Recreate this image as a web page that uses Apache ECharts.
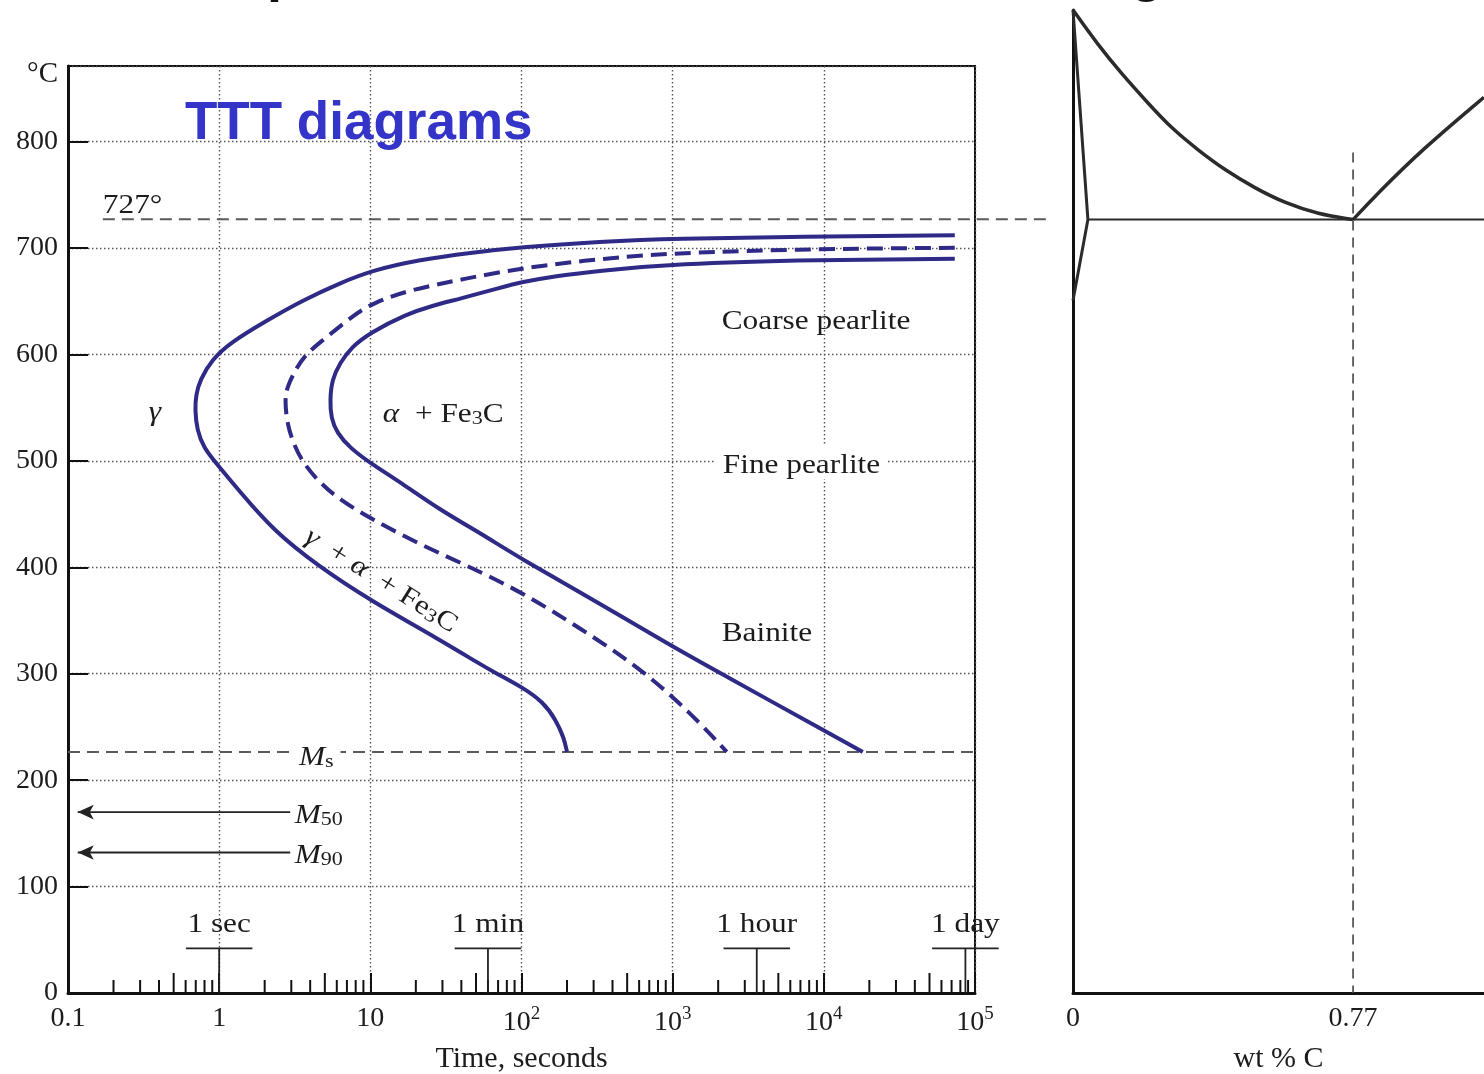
<!DOCTYPE html>
<html>
<head>
<meta charset="utf-8">
<title>TTT diagram</title>
<script src="https://cdn.jsdelivr.net/npm/echarts@6/dist/echarts.min.js"></script>
<style>
  html, body { margin: 0; padding: 0; background: #fff; }
  #chart { width: 1484px; height: 1074px; }
</style>
</head>
<body>
<div id="chart"></div>
<script>
// TTT curves: [time (s), temperature (°C)]
const startCurve = [
  [73500, 712], [6940, 710.5], [1035, 709], [330, 706], [102, 701], [45.6, 695.5], [21.3, 689],
  [10.3, 679], [6.29, 667], [3.58, 651], [2.07, 632], [1.18, 611], [0.895, 595], [0.746, 576],
  [0.702, 562], [0.692, 548], [0.713, 529], [0.792, 512], [0.952, 498], [1.37, 471], [2.27, 435],
  [4.43, 402], [9.94, 369], [28.8, 332], [53.1, 309], [68.7, 300], [102, 287], [139, 273.5],
  [169, 256.6], [191, 239.7], [200, 226.5]
]
const halfCurve = [
  [73500, 700.2], [9420, 699.2], [1003, 695.5], [330, 689.8], [102, 681.4], [41.6, 671],
  [18.3, 660.7], [10.4, 648.5], [7.67, 636.3], [5.16, 616.5], [3.81, 601.5], [3.27, 588.3],
  [2.81, 569.5], [2.72, 557.3], [2.81, 535.7], [3.08, 517], [3.58, 498], [4.64, 479.3],
  [6.29, 463.3], [10.4, 444.5], [22.3, 420], [45.6, 400.4], [102, 376], [243, 343],
  [607, 305.5], [1300, 264], [2280, 226.5]
]
const finishCurve = [
  [73500, 689.8], [9420, 689], [1003, 685.2], [330, 678.6], [171, 673.9], [102, 668.2],
  [71.9, 662.6], [39.2, 652.3], [25.5, 645.7], [17.5, 638.1], [9.94, 620.3], [7.55, 607.1],
  [6.29, 592.1], [5.57, 576.1], [5.41, 557.3], [5.49, 540.4], [6.01, 526.3], [7.33, 512.2],
  [9.94, 498.1], [15.7, 480.3], [28.8, 454], [53.1, 432.3], [102, 407], [243, 376.9],
  [1003, 325.2], [2050, 300.8], [9840, 247.2], [18100, 226.5]
]

const eutectoidTemp = 727
const eutectoidSpan = [0.17, 312000]
const msTemp = 226.5
const msSpan = [0.1, 100000]
const m50Temp = 170
const m90Temp = 132
const mArrowSpan = [2.95, 0.116]

const timeMarks = [1, 60, 3600, 86400]
const timeMarkNames = ['1 sec', '1 min', '1 hour', '1 day']
const minorTicks = []
for (let d = 0.1; d < 1e5; d *= 10) {
  for (let k = 2; k <= 9; k++) minorTicks.push(+(d * k).toPrecision(3))
}

// Fe-Fe3C corner: [wt % C, temperature (°C)]
const a3Line = [
  [0, 924], [0.069, 891], [0.132, 864.7], [0.206, 836.5], [0.27, 813], [0.344, 792.3],
  [0.418, 773.5], [0.5, 756.6], [0.583, 742.5], [0.674, 732.1], [0.77, 727]
]
const acmLine = [[0.77, 727], [0.839, 752], [0.957, 792], [1.13, 842]]
const alphaLine = [[0, 924], [0.041, 727], [0, 651]]
const eutectoidLine = [[0.041, 727], [1.13, 727]]
const eutectoidComp = [[0.77, 790], [0.77, 0]]
const compLabels = [0, 0.77]

// text annotations in the TTT panel: [time, temperature]
const notes = [
  { text: '727°', at: [0.17, 743] },
  { text: 'Coarse pearlite', at: [2110, 634] },
  { text: '{i|γ}', at: [0.376, 548], align: 'center' },
  { text: '{i|α}  + Fe{sub|3}C', at: [12.1, 546] },
  { text: 'Fine pearlite', at: [1930, 499], bg: true },
  { text: 'Bainite', at: [2110, 341] },
  { text: '{i|γ}  + {i|α}  + Fe{sub|3}C', at: [12.1, 390], align: 'center', rotate: -32 },
  { text: '{i|M}{sub|s}', at: [3.03, 224], bg: true },
  { text: '{i|M}{sub|50}', at: [3.16, 170] },
  { text: '{i|M}{sub|90}', at: [3.16, 132] }
]

const serif = '"Liberation Serif", "Times New Roman", serif'
const ink = '#1c1c1c'
const curveColor = '#2e2a86'
const stretch = 1.16

const richText = {
  n: { fontFamily: serif, fontSize: 27, color: ink, lineHeight: 34, verticalAlign: 'bottom' },
  i: { fontFamily: serif, fontSize: 27, fontStyle: 'italic', color: ink, lineHeight: 34, verticalAlign: 'bottom' },
  sub: { fontFamily: serif, fontSize: 19, color: ink, lineHeight: 19, verticalAlign: 'bottom' }
}

// clamped uniform cubic B-spline over the pixel points -> bezier path (smooths reading noise)
function splinePath(pts) {
  const c = [pts[0], pts[0]].concat(pts, [pts[pts.length - 1], pts[pts.length - 1]])
  const mix = (a, b, e, wa, wb, we) => [
    (a[0] * wa + b[0] * wb + e[0] * we) / (wa + wb + we),
    (a[1] * wa + b[1] * wb + e[1] * we) / (wa + wb + we)
  ]
  let start = mix(c[0], c[1], c[2], 1, 4, 1)
  let d = 'M' + start[0] + ' ' + start[1]
  for (let i = 0; i + 3 < c.length; i++) {
    const p1 = c[i + 1], p2 = c[i + 2], p3 = c[i + 3]
    const b1 = mix(p1, p2, p2, 2, 1, 0)
    const b2 = mix(p1, p2, p2, 1, 2, 0)
    const b3 = mix(p1, p2, p3, 1, 4, 1)
    d += ' C' + b1[0] + ' ' + b1[1] + ' ' + b2[0] + ' ' + b2[1] + ' ' + b3[0] + ' ' + b3[1]
  }
  return d
}

function curveSeries(data, axis, color, width, dash, straight) {
  return {
    type: 'custom', xAxisIndex: axis, yAxisIndex: axis, silent: true, clip: false, z: 3,
    data: data,
    renderItem(params, api) {
      if (params.dataIndex !== 0) return null
      const pts = data.map(p => api.coord(p))
      const pathData = straight
        ? pts.map((p, i) => (i ? 'L' : 'M') + p[0] + ' ' + p[1]).join(' ')
        : splinePath(pts)
      return {
        type: 'path',
        shape: { pathData: pathData },
        style: { fill: null, stroke: color, lineWidth: width, lineDash: dash || null, lineJoin: 'round' }
      }
    }
  }
}

function arrowSeries(temp) {
  return {
    type: 'line', xAxisIndex: 0, yAxisIndex: 0, silent: true,
    symbol: 'arrow', symbolSize: [11, 16],
    data: [
      { value: [mArrowSpan[0], temp], symbol: 'none' },
      { value: [mArrowSpan[1], temp], symbolRotate: 90 }
    ],
    itemStyle: { color: '#222' },
    lineStyle: { color: '#222', width: 1.8 }
  }
}

const chart = echarts.init(document.getElementById('chart'))

const option = {
  animation: false,
  backgroundColor: '#fff',
  textStyle: { fontFamily: serif },
  graphic: [
    {
      type: 'text', x: 160, y: 3, silent: true,
      style: {
        text: 'Temperature-Time-Transformation diagrams',
        fontFamily: '"Liberation Sans", Arial, sans-serif', fontWeight: 'bold', fontSize: 54,
        fill: '#111', verticalAlign: 'bottom'
      }
    },
    {
      type: 'text', x: 185, y: 124, silent: true, z: 100,
      style: {
        text: 'TTT diagrams',
        fontFamily: '"Liberation Sans", Arial, sans-serif', fontWeight: 'bold', fontSize: 53,
        fill: '#3434c8', verticalAlign: 'middle'
      }
    }
  ],
  grid: [
    { left: 68, top: 66, width: 907, height: 927, outerBoundsMode: 'none', show: true, borderColor: '#111', borderWidth: 2 },
    { left: 1073, top: 10, width: 411, height: 983, outerBoundsMode: 'none' }
  ],
  xAxis: [
    {
      type: 'log', gridIndex: 0, logBase: 10, min: 0.1, max: 100000, splitNumber: 6,
      name: 'Time, seconds', nameLocation: 'middle', nameGap: 51,
      nameTextStyle: { fontFamily: serif, fontSize: 30, color: ink },
      axisLine: { lineStyle: { color: '#111', width: 3 } },
      axisTick: { inside: true, length: 20, lineStyle: { color: '#111', width: 2 } },
      axisLabel: {
        margin: 12, fontFamily: serif, fontSize: 28, color: ink,
        formatter: v => v < 0.5 ? '0.1' : v < 50 ? String(Math.round(v)) : '{b|10}{s|' + Math.round(Math.log10(v)) + '}',
        rich: {
          b: { fontFamily: serif, fontSize: 28, color: ink, lineHeight: 32, verticalAlign: 'bottom' },
          s: { fontFamily: serif, fontSize: 19, color: ink, lineHeight: 19, verticalAlign: 'top' }
        }
      },
      splitLine: { show: true, lineStyle: { color: '#555', width: 1.4, type: [1.5, 2.5] } }
    },
    {
      type: 'value', gridIndex: 1, min: 0, max: 1.13,
      name: 'wt % C', nameLocation: 'middle', nameGap: 51,
      nameTextStyle: { fontFamily: serif, fontSize: 30, color: ink },
      axisLine: { lineStyle: { color: '#111', width: 3 } },
      axisTick: { show: false },
      axisLabel: {
        margin: 12, fontFamily: serif, fontSize: 28, color: ink,
        customValues: compLabels, formatter: v => String(v)
      },
      splitLine: { show: false }
    }
  ],
  yAxis: [
    {
      type: 'value', gridIndex: 0, min: 0, max: 871, interval: 100,
      name: '°C', nameLocation: 'end', nameGap: -8,
      nameTextStyle: { fontFamily: serif, fontSize: 29, color: ink, align: 'right', verticalAlign: 'middle', padding: [0, 10, 0, 0] },
      axisLine: { lineStyle: { color: '#111', width: 3 } },
      axisTick: { inside: true, length: 20, lineStyle: { color: '#111', width: 2 } },
      axisLabel: {
        margin: 10, fontFamily: serif, fontSize: 28, color: ink, showMaxLabel: false,
        formatter: v => v % 100 === 0 ? String(v) : ''
      },
      splitLine: { show: true, lineStyle: { color: '#555', width: 1.4, type: [1.5, 2.5] } }
    },
    {
      type: 'value', gridIndex: 1, min: 0, max: 924,
      axisLine: { show: true, lineStyle: { color: '#111', width: 3 } },
      axisTick: { show: false }, axisLabel: { show: false }, splitLine: { show: false }
    }
  ],
  series: [
    // 727° and Ms dashed lines
    curveSeries(eutectoidSpan.map(t => [t, eutectoidTemp]), 0, '#5a5a5a', 2, [12, 7], true),
    curveSeries(msSpan.map(t => [t, msTemp]), 0, '#5a5a5a', 2, [12, 7], true),
    arrowSeries(m50Temp),
    arrowSeries(m90Temp),
    curveSeries(startCurve, 0, curveColor, 4),
    curveSeries(halfCurve, 0, curveColor, 4, [16, 8]),
    curveSeries(finishCurve, 0, curveColor, 4),
    // minor log ticks on the time axis
    {
      type: 'custom', xAxisIndex: 0, yAxisIndex: 0, silent: true, clip: false,
      data: minorTicks.map(v => [v, 0]),
      renderItem(params, api) {
        const v = api.value(0)
        const m = Math.round(v / Math.pow(10, Math.floor(Math.log10(v) + 1e-9)))
        const p = api.coord([v, 0])
        const len = m === 5 ? 20 : 13
        return {
          type: 'line',
          shape: { x1: p[0], y1: p[1], x2: p[0], y2: p[1] - len },
          style: { stroke: '#111', lineWidth: 2 }
        }
      }
    },
    // 1 sec / 1 min / 1 hour / 1 day markers
    {
      type: 'custom', xAxisIndex: 0, yAxisIndex: 0, silent: true, clip: false,
      data: timeMarks.map(t => [t, 0]),
      renderItem(params, api) {
        const t = api.value(0)
        const base = api.coord([t, 0])
        const top = api.coord([t, 42])
        const l = api.coord([t / 1.66, 42])
        const r = api.coord([t * 1.66, 42])
        const txt = api.coord([t, 64])
        return {
          type: 'group',
          children: [
            { type: 'line', shape: { x1: base[0], y1: base[1], x2: top[0], y2: top[1] }, style: { stroke: '#222', lineWidth: 1.8 } },
            { type: 'line', shape: { x1: l[0], y1: l[1], x2: r[0], y2: r[1] }, style: { stroke: '#222', lineWidth: 1.8 } },
            {
              type: 'text', x: txt[0], y: txt[1], scaleX: stretch,
              style: { text: timeMarkNames[params.dataIndex], fontFamily: serif, fontSize: 27, fill: ink, align: 'center', verticalAlign: 'middle' }
            }
          ]
        }
      }
    },
    // region and line labels
    {
      type: 'custom', xAxisIndex: 0, yAxisIndex: 0, silent: true, clip: false, z: 5,
      data: notes.map(n => n.at),
      renderItem(params, api) {
        const n = notes[params.dataIndex]
        const p = api.coord([api.value(0), api.value(1)])
        const text = n.text.indexOf('{') === -1 ? '{n|' + n.text + '}' : n.text.replace(/(^|\})([^{}]+)(\{|$)/g, (s, a, b, c) => a + '{n|' + b + '}' + c)
        return {
          type: 'text', x: p[0], y: p[1], scaleX: stretch, rotation: (n.rotate || 0) * Math.PI / 180,
          style: {
            text: text, rich: richText, fontFamily: serif, fontSize: 27, fill: ink,
            align: n.align || 'left', verticalAlign: 'middle',
            backgroundColor: n.bg ? '#fff' : 'transparent', padding: n.bg ? [0, 6] : 0
          }
        }
      }
    },
    // Fe-C corner
    curveSeries(a3Line, 1, '#2b2b2b', 3.5),
    curveSeries(acmLine, 1, '#2b2b2b', 3.5),
    curveSeries(alphaLine, 1, '#2b2b2b', 3, null, true),
    curveSeries(eutectoidLine, 1, '#2b2b2b', 2, null, true),
    curveSeries(eutectoidComp, 1, '#444', 1.6, [10, 7], true)
  ]
}

chart.setOption(option)
</script>
</body>
</html>
